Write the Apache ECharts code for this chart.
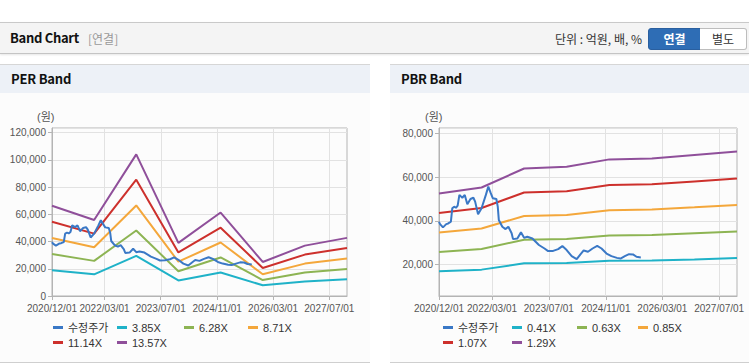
<!DOCTYPE html>
<html><head><meta charset="utf-8">
<script src="https://cdn.jsdelivr.net/npm/echarts@6/dist/echarts.min.js"></script>
<style>
body{margin:0;width:749px;height:364px;overflow:hidden;background:#fff;position:relative;font-family:'Noto Sans CJK KR','Liberation Sans',sans-serif}
.abs{position:absolute;white-space:nowrap}
#hdr{position:absolute;left:0;top:22px;width:749px;height:30px;background:#f4f4f4;border-top:1px solid #c9c9c9;border-bottom:1px solid #c4c4c4;box-shadow:0 1px 2px rgba(0,0,0,.10)}
.panel{position:absolute;top:64px;height:297px;background:#fcfcfc;border-top:1px solid #d6d6d6;border-bottom:1px solid #cfcfcf}
.ph{position:absolute;left:0;top:0;right:0;height:28px;background:#edf1f7}
.pt{position:absolute;left:11px;top:6px;font-size:13px;font-weight:bold;color:#111;line-height:16px;letter-spacing:-0.2px}
.btn{position:absolute;top:5px;height:20px;line-height:20px;text-align:center;font-size:12px}
</style></head><body>
<div id="hdr">
  <span class="abs" style="left:10px;top:7px;font-size:13px;font-weight:bold;color:#111;line-height:16px;letter-spacing:-0.3px">Band Chart</span>
  <span class="abs" style="left:88px;top:8px;font-size:12px;color:#999;line-height:15px">[연결]</span>
  <span class="abs" style="right:107px;top:8px;font-size:12px;color:#333;line-height:15px">단위 : 억원, 배, %</span>
  <div class="btn" style="left:648px;width:51px;background:#2e6db5;border:1px solid #2a5f9f;border-radius:3px 0 0 3px;color:#fff;font-weight:bold">연결</div>
  <div class="btn" style="left:700px;width:46px;background:#fff;border:1px solid #bdbdbd;border-left:none;border-radius:0 3px 3px 0;color:#333">별도</div>
</div>
<div class="panel" style="left:0;width:370px"><div class="ph"><span class="pt">PER Band</span></div></div>
<div class="panel" style="left:390px;width:359px"><div class="ph"><span class="pt">PBR Band</span></div></div>
<div id="chart" style="position:absolute;left:0;top:0;width:749px;height:364px"></div>
<script>
// ---------- data ----------
const xRange = ['2020/12/01', '2027/12/01'];
const xTickLabels = ['2020/12/01', '2022/03/01', '2023/07/01', '2024/11/01', '2026/03/01', '2027/07/01'];
const perYRange = [0, 123400];
const perYStep = 20000;
const pbrYRange = [5500, 82600];

const bandDates = ['2020/12/01', '2021/12/01', '2022/12/01', '2023/12/01', '2024/12/01', '2025/12/01', '2026/12/01', '2027/12/01'];

const perNames = ['3.85X', '6.28X', '8.71X', '11.14X', '13.57X'];
const per385 = [18900, 15900, 29500, 11400, 17300, 7900, 10600, 12300];
const per628 = [30800, 25800, 48100, 18200, 28300, 11700, 17200, 19800];
const per871 = [42600, 35800, 66500, 25200, 39300, 16000, 23800, 27500];
const per1114 = [54500, 45800, 85400, 32000, 50200, 20600, 30400, 35200];
const per1357 = [66300, 55800, 104000, 39000, 61300, 25000, 37000, 42700];

const pbrNames = ['0.41X', '0.63X', '0.85X', '1.07X', '1.29X'];
const pbr041 = [16900, 17600, 20500, 20700, 21700, 21800, 22300, 22900];
const pbr063 = [25700, 27100, 31300, 31700, 33300, 33500, 34300, 35100];
const pbr085 = [34600, 36500, 42200, 42700, 44900, 45200, 46200, 47300];
const pbr107 = [43600, 45900, 53000, 53600, 56400, 56800, 58100, 59400];
const pbr129 = [52500, 55300, 64000, 64800, 68200, 68600, 70200, 71800];

const priceName = '수정주가';
const priceDates = ['2020/12/01','2020/12/10','2021/01/04','2021/02/01','2021/02/18','2021/03/13','2021/03/25','2021/04/10','2021/04/25','2021/05/10','2021/05/25','2021/06/19','2021/07/10','2021/08/01','2021/08/28','2021/09/22','2021/10/07','2021/11/01','2021/12/01','2022/01/07','2022/01/28','2022/02/18','2022/03/07','2022/04/07','2022/04/19','2022/04/28','2022/05/28','2022/06/25','2022/07/19','2022/08/16','2022/08/28','2022/10/04','2022/11/04','2022/12/01','2022/12/28','2023/02/10','2023/04/07','2023/05/25','2023/06/25','2023/08/07','2023/09/19','2023/10/25','2023/12/01','2024/01/13','2024/02/25','2024/03/28','2024/04/25','2024/06/01','2024/07/10','2024/08/19','2024/09/25','2024/11/07','2024/12/19','2025/02/04','2025/03/07','2025/04/13','2025/05/19','2025/06/22','2025/07/22','2025/08/28'];
const priceValues = [39500,38500,37000,38500,38800,39600,45800,46500,46000,47000,51900,50600,51900,47600,50000,50600,48800,43000,45800,51900,55700,52700,50400,50000,46500,40400,37300,36200,37300,34300,31600,31900,34700,32200,32700,31900,28900,27300,26100,26200,27000,28400,26600,23800,22400,24600,26400,25800,27300,28500,27300,25000,23800,23000,22700,23800,24700,24600,23500,23200];

const bandColors = ['#1fb2c8', '#8db453', '#f4a73b', '#cd302c', '#8f4f9a'];
const priceColor = '#3a78c6';

// ---------- helpers ----------
function ts(s) { const p = s.split('/').map(Number); return new Date(p[0], p[1] - 1, p[2]).getTime(); }
function fmt(v) { const d = new Date(v); const p = n => (n < 10 ? '0' : '') + n; return d.getFullYear() + '/' + p(d.getMonth() + 1) + '/' + p(d.getDate()); }
function pairs(dates, vals) { return dates.map((d, i) => [ts(d), vals[i]]); }

const axisFont = "'Liberation Sans',Arial,sans-serif";
const lblColor = '#555';
const lineCol = '#b4b4b4';
const gridCol = '#e2e2e2';
const xTicks = xTickLabels.map(ts);
const xMin = ts(xRange[0]), xMax = ts(xRange[1]);

// month categories spanning the x range (used only for the vertical grid lines)
const monthCats = [];
for (let d = new Date(xMin); d.getTime() <= xMax; d = new Date(d.getFullYear(), d.getMonth() + 1, 1)) monthCats.push(fmt(d.getTime()));
const tickSet = new Set(xTickLabels);

function xAxis(gi) {
  return {
    type: 'value', gridIndex: gi, min: xMin, max: xMax,
    axisLine: { show: true, onZero: false, lineStyle: { color: lineCol } },
    axisTick: { show: true, length: 4, lineStyle: { color: lineCol }, customValues: xTicks },
    axisLabel: { customValues: xTicks, formatter: v => fmt(v), color: lblColor, fontSize: 10, fontFamily: axisFont, margin: 7,
      hideOverlap: false, showMinLabel: true, showMaxLabel: true },
    splitLine: { show: false }
  };
}
function xGridAxis(gi) {
  return {
    type: 'category', gridIndex: gi, data: monthCats, boundaryGap: false, position: 'bottom',
    axisLine: { show: false }, axisTick: { show: false }, axisLabel: { show: false },
    splitLine: { show: true, interval: (i, v) => tickSet.has(v), lineStyle: { color: gridCol, width: 1 } }
  };
}
const yLabel = v => Number(v).toLocaleString('en-US');
const perY = {
  type: 'value', gridIndex: 0, min: perYRange[0], max: perYRange[1], interval: perYStep,
  axisLine: { show: true, onZero: false, lineStyle: { color: lineCol } },
  axisTick: { show: true, length: 4, lineStyle: { color: lineCol } },
  axisLabel: { color: lblColor, fontSize: 10, fontFamily: axisFont, margin: 6, showMinLabel: true, showMaxLabel: false, formatter: yLabel },
  splitLine: { show: true, lineStyle: { color: gridCol, width: 1 } }
};
const pbrY = {
  type: 'value', gridIndex: 1, min: pbrYRange[0], max: pbrYRange[1], splitNumber: 4,
  axisLine: { show: true, onZero: false, lineStyle: { color: lineCol } },
  axisTick: { show: true, length: 4, lineStyle: { color: lineCol } },
  axisLabel: { color: lblColor, fontSize: 10, fontFamily: axisFont, margin: 6, showMinLabel: false, showMaxLabel: false, formatter: yLabel },
  splitLine: { show: true, lineStyle: { color: gridCol, width: 1 } }
};
function lineSeries(name, gi, data, color, z) {
  return { name: name, type: 'line', xAxisIndex: gi, yAxisIndex: gi, data: data, showSymbol: false, symbol: 'none',
    lineStyle: { width: 2, color: color }, itemStyle: { color: color }, z: z, silent: true };
}

const series = [];
const perSets = [per385, per628, per871, per1114, per1357];
const pbrSets = [pbr041, pbr063, pbr085, pbr107, pbr129];
perSets.forEach((s, i) => series.push(lineSeries(perNames[i], 0, pairs(bandDates, s), bandColors[i], 2)));
series.push(lineSeries(priceName, 0, pairs(priceDates, priceValues), priceColor, 3));
pbrSets.forEach((s, i) => series.push(lineSeries(pbrNames[i], 1, pairs(bandDates, s), bandColors[i], 2)));
series.push(lineSeries(priceName, 1, pairs(priceDates, priceValues), priceColor, 3));

const legendFont = "'Liberation Sans','Noto Sans CJK KR',sans-serif";
function leg(name, left, top) {
  return { data: [name], left: left, top: top, padding: 0, icon: 'rect', itemWidth: 10, itemHeight: 3,
    selectedMode: false, textStyle: { fontSize: 11, color: '#333', fontFamily: legendFont } };
}
const perLegCols = [53, 117, 184, 248];
const pbrLegCols = [443, 512, 577, 638];
const legRows = [322, 337];
const legends = [
  leg(priceName, perLegCols[0], legRows[0]), leg(perNames[0], perLegCols[1], legRows[0]), leg(perNames[1], perLegCols[2], legRows[0]), leg(perNames[2], perLegCols[3], legRows[0]),
  leg(perNames[3], perLegCols[0], legRows[1]), leg(perNames[4], perLegCols[1], legRows[1]),
  leg(priceName, pbrLegCols[0], legRows[0]), leg(pbrNames[0], pbrLegCols[1], legRows[0]), leg(pbrNames[1], pbrLegCols[2], legRows[0]), leg(pbrNames[2], pbrLegCols[3], legRows[0]),
  leg(pbrNames[3], pbrLegCols[0], legRows[1]), leg(pbrNames[4], pbrLegCols[1], legRows[1])
];

const chart = echarts.init(document.getElementById('chart'), null, { renderer: 'svg' });
chart.setOption({
  animation: false,
  backgroundColor: 'transparent',
  grid: [
    { left: 52, top: 128, width: 295, height: 168, show: true, borderColor: lineCol, borderWidth: 1, backgroundColor: 'transparent', containLabel: false },
    { left: 439, top: 128, width: 298, height: 168, show: true, borderColor: lineCol, borderWidth: 1, backgroundColor: 'transparent', containLabel: false }
  ],
  xAxis: [xAxis(0), xAxis(1), xGridAxis(0), xGridAxis(1)],
  yAxis: [perY, pbrY],
  legend: legends,
  graphic: [
    { type: 'text', left: 37, top: 111, style: { text: '(원)', fontSize: 11, fill: '#555', fontFamily: legendFont } },
    { type: 'text', left: 425, top: 111, style: { text: '(원)', fontSize: 11, fill: '#555', fontFamily: legendFont } }
  ],
  series: series
});
</script>
</body></html>
